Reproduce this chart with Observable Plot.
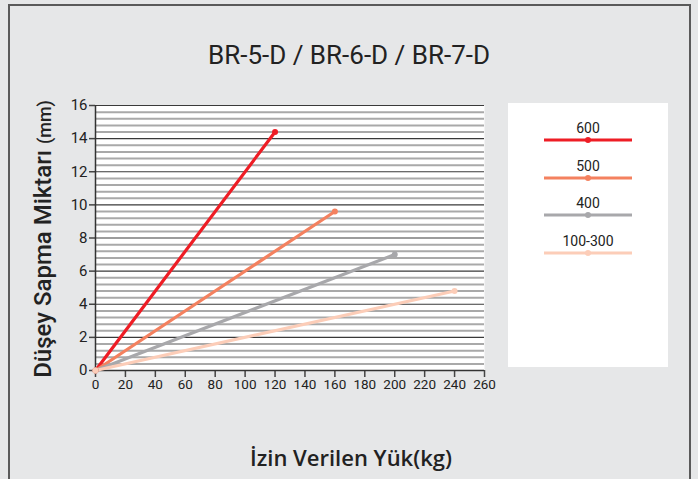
<!DOCTYPE html>
<html>
<head>
<meta charset="utf-8">
<script src="https://cdn.jsdelivr.net/npm/d3@7"></script>
<script src="https://cdn.jsdelivr.net/npm/@observablehq/plot@0.6"></script>
<style>
  html, body { margin: 0; padding: 0; background: #e6e7e8; }
  body { width: 698px; height: 479px; position: relative; overflow: hidden; font-family: Roboto, "DejaVu Sans", sans-serif; }
  #frame { position: absolute; left: 8px; top: 4px; width: 683px; height: 490px; border: 2px solid #5a5a5a; box-sizing: border-box; }
  #chart { position: absolute; left: 0; top: 0; }
  #title { position: absolute; left: 0; width: 698px; top: 39px; line-height: 32px; text-align: center; font-size: 26px; color: #222; }
  #ylabel { position: absolute; left: 43px; top: 239px; transform: translate(-50%, -50%) rotate(-90deg); white-space: nowrap; font-size: 24px; font-weight: 500; color: #222; }
  #ylabel span { font-size: 18px; }
  #xlabel { position: absolute; left: 0; width: 698px; top: 441px; line-height: 32px; text-align: center; font-family: "Open Sans", sans-serif; font-size: 22px; font-weight: 600; color: #222; padding-left: 2px; }
  #legend { position: absolute; left: 508px; top: 103px; width: 160px; height: 264px; background: #fff; }
  .item { position: absolute; left: 0; width: 160px; text-align: center; font-size: 14px; color: #222; }
  .item svg { display: block; margin: 1px auto 0; }
</style>
</head>
<body>
<div id="frame"></div>
<div id="title">BR-5-D / BR-6-D / BR-7-D</div>
<div id="chart"></div>
<div id="ylabel">Düşey Sapma Miktarı <span>(mm)</span></div>
<div id="xlabel">İzin Verilen Yük(kg)</div>
<div id="legend"></div>
<script>
// Data
const seriesNames = ["600", "500", "400", "100-300"];
const seriesColors = ["#ee1d25", "#f4815f", "#a8a8ab", "#fccdb8"];
const loadStart = [0, 0, 0, 0];
const loadEnd = [120, 160, 200, 240];
const deflStart = [0, 0, 0, 0];
const deflEnd = [14.4, 9.6, 7.0, 4.8];
const xTicks = [0, 20, 40, 60, 80, 100, 120, 140, 160, 180, 200, 220, 240, 260];
const yTicks = [0, 2, 4, 6, 8, 10, 12, 14, 16];
const minorGrid = [0.4, 0.8, 1.2, 1.6, 2.4, 2.8, 3.2, 3.6, 4.4, 4.8, 5.2, 5.6, 6.4, 6.8, 7.2, 7.6,
  8.4, 8.8, 9.2, 9.6, 10.4, 10.8, 11.2, 11.6, 12.4, 12.8, 13.2, 13.6, 14.4, 14.8, 15.2, 15.6];

const pts = [];
seriesNames.forEach((s, i) => {
  pts.push({ series: s, x: loadStart[i], y: deflStart[i] });
  pts.push({ series: s, x: loadEnd[i], y: deflEnd[i] });
});

const chart = Plot.plot({
  width: 698,
  height: 479,
  marginLeft: 95,
  marginRight: 214,
  marginTop: 105,
  marginBottom: 109,
  style: { background: "transparent", fontFamily: "Roboto, sans-serif", color: "#222" },
  x: { domain: [0, 260], ticks: xTicks, label: null },
  y: { domain: [0, 16], ticks: yTicks, label: null },
  color: { domain: seriesNames, range: seriesColors },
  marks: [
    Plot.frame({ fill: "white", stroke: null }),
    Plot.ruleY(minorGrid, { stroke: "#a9a9a9", strokeWidth: 2 }),
    Plot.ruleY(yTicks, { stroke: "#3a3a3a", strokeWidth: 1.2 }),
    Plot.axisX({ ticks: xTicks, tickSize: 7, tickPadding: 2, fontSize: 13.5, stroke: "#444", strokeWidth: 1.5 }),
    Plot.axisY({ ticks: yTicks, tickSize: 6, tickPadding: 2, fontSize: 15, stroke: "#444", strokeWidth: 1.5 }),
    Plot.ruleX([0], { stroke: "#333", strokeWidth: 1.5 }),
    Plot.ruleY([0], { stroke: "#333", strokeWidth: 1.5 }),
    Plot.line(pts, { x: "x", y: "y", z: "series", stroke: "series", strokeWidth: 3.2 }),
    Plot.dot(pts, { x: "x", y: "y", fill: "series", r: 3 })
  ]
});
document.getElementById("chart").appendChild(chart);

// Legend
const legend = document.getElementById("legend");
seriesNames.forEach((s, i) => {
  const div = document.createElement("div");
  div.className = "item";
  div.style.top = (17 + i * 37.5) + "px";
  div.innerHTML = `<div>${s}</div><svg width="88" height="6"><line x1="0" x2="88" y1="3" y2="3" stroke="${seriesColors[i]}" stroke-width="3"/><circle cx="44" cy="3" r="3" fill="${seriesColors[i]}"/></svg>`;
  legend.appendChild(div);
});
</script>
</body>
</html>
